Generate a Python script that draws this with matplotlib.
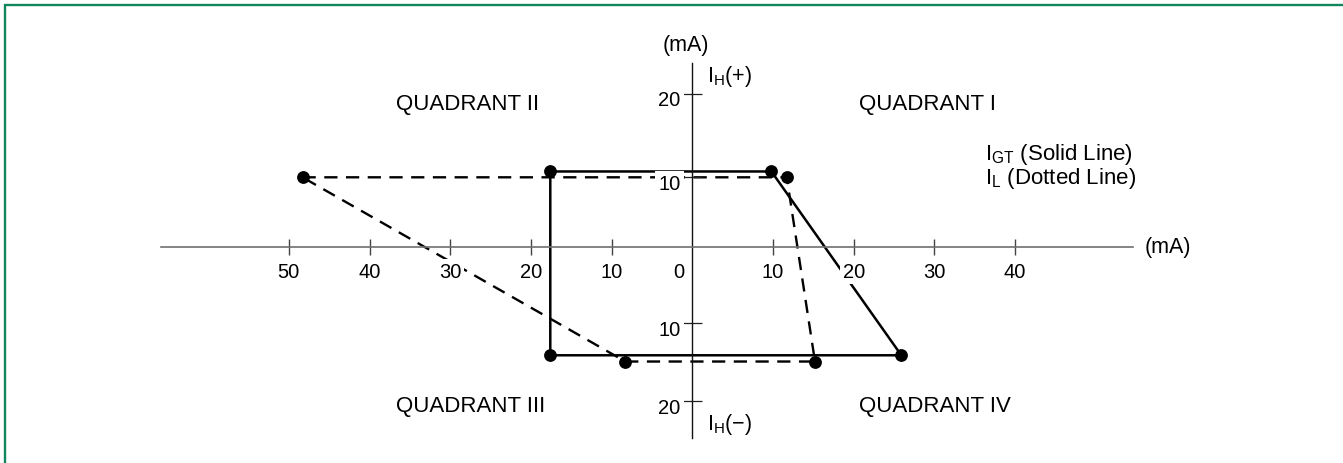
import numpy as np
import matplotlib
matplotlib.use("Agg")
import matplotlib.pyplot as plt
from matplotlib.patches import Rectangle
from matplotlib.ticker import NullLocator
from matplotlib.transforms import ScaledTranslation

plt.rcParams['font.family'] = ['Liberation Sans', 'DejaVu Sans']
plt.rcParams['mathtext.default'] = 'regular'

# I_GT (solid line) corners, clockwise from top left
igt_x = [-17.6, 9.8, 25.9, -17.6]
igt_y = [10.7, 10.7, -14.1, -14.1]

# I_L (dashed line) corners
il_x = [-48.3, 11.7, 15.2, -8.3]
il_y = [10.0, 10.0, -14.9, -14.9]

x_ticks = [-50, -40, -30, -20, -10, 10, 20, 30, 40]
y_ticks = [-20, -10, 10, 20]

# the vertical axis of the drawing is not evenly spaced,
# so map each value to its height (px above the x axis)
y_knots = [-40, -30, -20, -10, 0, 10, 20, 30, 40]
y_px = [-310.6, -232.6, -154.6, -76.6, 0, 69.4, 152.7, 236.0, 319.3]


def fwd(v):
    return np.interp(v, y_knots, y_px)


def inv(p):
    return np.interp(p, y_px, y_knots)


fig = plt.figure(figsize=(13.43, 4.64), dpi=100)
ax = fig.add_axes([0, 0, 1, 1])
ax.set_yscale('function', functions=(fwd, inv))
ax.set_xlim(-85.79, 80.63)
ax.set_ylim(inv(-216.3), inv(247.7))

for side in ['top', 'right']:
    ax.spines[side].set_visible(False)
ax.spines['bottom'].set_position(('data', 0))
ax.spines['left'].set_position(('data', 0))
ax.spines['bottom'].set_bounds(-65.8, 54.6)
ax.spines['left'].set_bounds(inv(-191.6), inv(183.4))
ax.spines['bottom'].set_color('#707070')
ax.spines['bottom'].set_linewidth(1.2)
ax.spines['left'].set_color('#111111')
ax.spines['left'].set_linewidth(1.0)

ax.set_xticks(x_ticks, labels=[str(abs(v)) for v in x_ticks])
ax.set_yticks(y_ticks, labels=[str(abs(v)) for v in y_ticks])
ax.xaxis.set_minor_locator(NullLocator())
ax.yaxis.set_minor_locator(NullLocator())
ax.tick_params(axis='x', direction='inout', length=12.2, width=1.0,
               color='#444444', labelsize=14.5, pad=5.0)
ax.tick_params(axis='y', direction='inout', length=13.7, width=0.9,
               color='#222222', labelsize=14.5, pad=1.5)

for lab in ax.get_xticklabels() + ax.get_yticklabels():
    lab.set_bbox(dict(boxstyle='square,pad=0.15', fc='white', ec='none'))
shift = ScaledTranslation(0, -4 / 100, fig.dpi_scale_trans)
for lab in ax.get_yticklabels():
    lab.set_transform(lab.get_transform() + shift)

ax.text(-1.7, -3.2, '0', ha='center', va='center', fontsize=14.5)

# curves
ax.plot(il_x + il_x[:1], il_y + il_y[:1], color='black', lw=1.7,
        dashes=(5.6, 3.6), zorder=1)
ax.plot(il_x, il_y, 'o', color='black', ms=8.2, zorder=1)
ax.plot(igt_x + igt_x[:1], igt_y + igt_y[:1], color='black', lw=1.8, zorder=1)
ax.plot(igt_x, igt_y, 'o', color='black', ms=8.2, zorder=1)

# labels
ax.text(-27.9, 18.8, 'QUADRANT II', ha='center', va='center', fontsize=16)
ax.text(29.1, 18.8, 'QUADRANT I', ha='center', va='center', fontsize=16)
ax.text(-27.5, -20.6, 'QUADRANT III', ha='center', va='center', fontsize=16)
ax.text(30.1, -20.6, 'QUADRANT IV', ha='center', va='center', fontsize=16)

ax.text(-0.8, 26.0, '(mA)', ha='center', va='center', fontsize=15.5)
ax.text(56.1, 0, '(mA)', ha='left', va='center', fontsize=15.5)
ax.text(1.8, 22.2, r'$I_H$(+)', ha='left', va='center', fontsize=15.5)
ax.text(1.8, -22.9, r'$I_H$(−)', ha='left', va='center', fontsize=15.5)
ax.text(36.3, 12.9, r'$I_{GT}$ (Solid Line)', ha='left', va='center', fontsize=16)
ax.text(36.3, 10.0, r'$I_L$ (Dotted Line)', ha='left', va='center', fontsize=16)

# green frame (only top and left edges show)
fig.add_artist(Rectangle((5.3 / 1343, -0.05), 1.1, 1.05 - 6.3 / 464,
                         transform=fig.transFigure, fill=False,
                         ec='#10875a', lw=1.7))

fig.savefig('out.png', dpi=100)
